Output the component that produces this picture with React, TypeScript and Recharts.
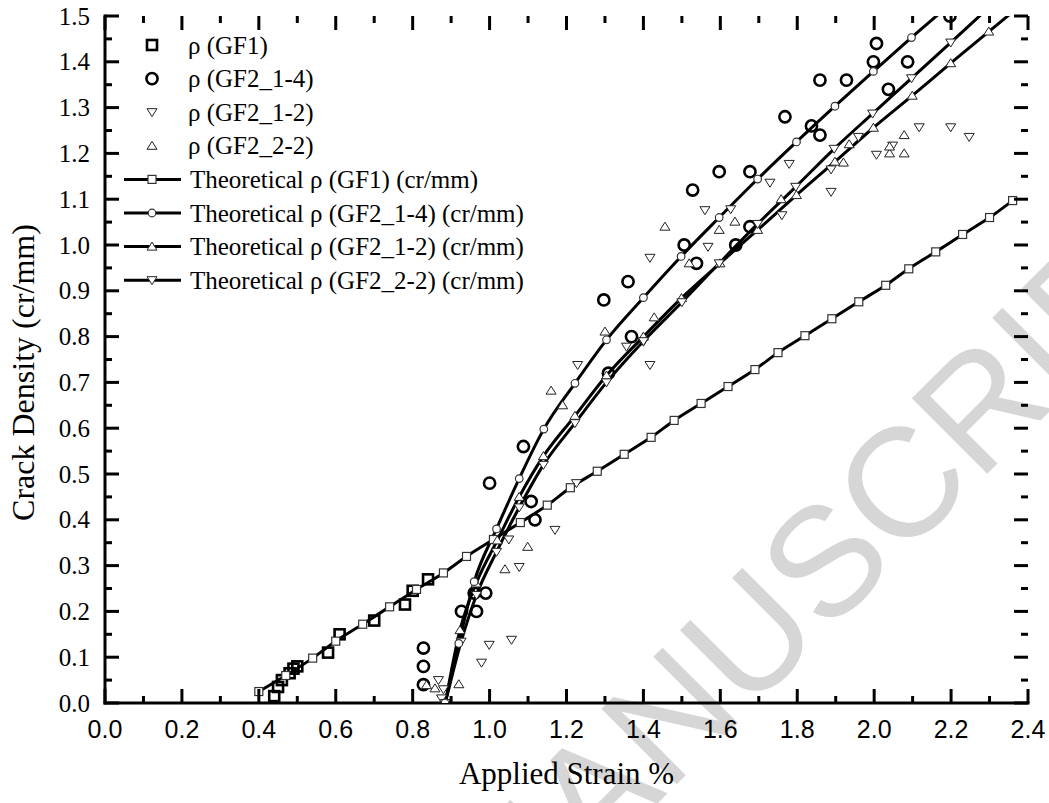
import React from 'react'
import { ComposedChart, Line, Scatter, XAxis, YAxis, Legend } from 'recharts'

// axis ticks
const X_MAJOR = [0, 0.2, 0.4, 0.6, 0.8, 1.0, 1.2, 1.4, 1.6, 1.8, 2.0, 2.2, 2.4]
const X_MINOR = [0.1, 0.3, 0.5, 0.7, 0.9, 1.1, 1.3, 1.5, 1.7, 1.9, 2.1, 2.3]
const Y_MAJOR = [0, 0.1, 0.2, 0.3, 0.4, 0.5, 0.6, 0.7, 0.8, 0.9, 1.0, 1.1, 1.2, 1.3, 1.4, 1.5]
const Y_MINOR = [0.05, 0.15, 0.25, 0.35, 0.45, 0.55, 0.65, 0.75, 0.85, 0.95, 1.05, 1.15, 1.25, 1.35, 1.45]
const X_DOMAIN: [number, number] = [0, 2.4]
const Y_DOMAIN: [number, number] = [0, 1.5]

// measured crack density [strain %, cr/mm]
const GF1_EXP: [number, number][] = [
    [0.44, 0.015], [0.45, 0.035], [0.46, 0.05], [0.48, 0.065], [0.49, 0.075], [0.50, 0.08],
    [0.58, 0.11], [0.61, 0.15], [0.70, 0.18], [0.78, 0.215], [0.80, 0.245], [0.84, 0.27],
]
const GF2_14_EXP: [number, number][] = [
    [0.828, 0.12], [0.828, 0.08], [0.828, 0.04], [0.927, 0.2], [0.966, 0.2], [0.96, 0.24], [0.99, 0.24],
    [1.0, 0.48], [1.088, 0.56], [1.108, 0.44], [1.118, 0.4], [1.297, 0.88], [1.309, 0.72], [1.36, 0.92],
    [1.369, 0.8], [1.506, 1.0], [1.528, 1.12], [1.538, 0.96], [1.597, 1.16], [1.64, 1.0], [1.677, 1.04],
    [1.677, 1.16], [1.768, 1.28], [1.837, 1.26], [1.859, 1.24], [1.859, 1.36], [1.928, 1.36], [1.998, 1.4],
    [2.006, 1.44], [2.037, 1.34], [2.087, 1.4], [2.197, 1.5],
]
const GF2_12_EXP: [number, number][] = [
    [0.867, 0.05], [0.875, 0.01], [0.88, 0.03], [0.979, 0.088], [0.999, 0.127], [1.057, 0.138],
    [1.077, 0.297], [1.05, 0.357], [1.17, 0.378], [1.226, 0.48], [1.229, 0.738], [1.356, 0.778],
    [1.4, 0.789], [1.417, 0.738], [1.417, 0.972], [1.568, 0.996], [1.56, 1.076], [1.627, 1.078],
    [1.729, 1.136], [1.76, 1.065], [1.779, 1.177], [1.888, 1.116], [1.888, 1.165], [1.959, 1.236],
    [2.006, 1.197], [2.048, 1.217], [2.117, 1.257], [2.199, 1.257], [2.247, 1.236],
]
const GF2_22_EXP: [number, number][] = [
    [0.836, 0.039], [0.858, 0.032], [0.92, 0.041], [1.04, 0.292], [1.099, 0.341], [1.16, 0.682],
    [1.19, 0.65], [1.3, 0.811], [1.428, 0.842], [1.456, 1.04], [1.519, 0.96], [1.597, 1.033],
    [1.638, 1.051], [1.758, 1.1], [1.92, 1.18], [1.935, 1.22], [2.04, 1.2], [2.04, 1.215],
    [2.078, 1.2], [2.078, 1.24],
]

// theoretical curves
const GF1_THEO: [number, number][] = [
    [0.40, 0.025], [0.47, 0.06], [0.54, 0.098], [0.60, 0.135], [0.67, 0.172], [0.74, 0.21],
    [0.81, 0.248], [0.88, 0.284], [0.94, 0.32], [1.01, 0.357], [1.08, 0.394], [1.15, 0.432],
    [1.21, 0.47], [1.28, 0.506], [1.35, 0.543], [1.42, 0.58], [1.48, 0.617], [1.55, 0.654],
    [1.62, 0.691], [1.69, 0.728], [1.75, 0.765], [1.82, 0.802], [1.89, 0.839], [1.96, 0.876],
    [2.03, 0.912], [2.09, 0.948], [2.16, 0.985], [2.23, 1.023], [2.30, 1.06], [2.36, 1.097],
]
const GF2_14_THEO: [number, number][] = [
    [0.884, 0.0], [0.92, 0.13], [0.96, 0.265], [1.018, 0.38], [1.077, 0.49], [1.141, 0.598],
    [1.222, 0.698], [1.304, 0.793], [1.4, 0.885], [1.498, 0.975], [1.597, 1.06], [1.697, 1.144],
    [1.798, 1.225], [1.898, 1.303], [1.998, 1.379], [2.097, 1.453], [2.197, 1.525],
]
const GF2_12_THEO: [number, number][] = [
    [0.885, 0.0], [0.923, 0.159], [0.965, 0.261], [1.02, 0.355], [1.077, 0.45], [1.14, 0.539],
    [1.222, 0.627], [1.304, 0.715], [1.4, 0.8], [1.499, 0.884], [1.599, 0.96], [1.697, 1.033],
    [1.798, 1.109], [1.898, 1.182], [1.998, 1.256], [2.099, 1.326], [2.199, 1.397], [2.298, 1.466],
    [2.398, 1.535],
]
const GF2_22_THEO: [number, number][] = [
    [0.885, 0.0], [0.926, 0.134], [0.966, 0.236], [1.018, 0.33], [1.077, 0.427], [1.14, 0.52],
    [1.222, 0.611], [1.304, 0.7], [1.4, 0.79], [1.5, 0.875], [1.597, 0.96], [1.697, 1.046],
    [1.796, 1.127], [1.896, 1.21], [1.996, 1.287], [2.097, 1.364], [2.199, 1.442], [2.3, 1.52],
]

const LEGEND_ROWS = [
    { label: 'ρ (GF1)', mark: 'bsq' },
    { label: 'ρ (GF2_1-4)', mark: 'bci' },
    { label: 'ρ (GF2_1-2)', mark: 'dn' },
    { label: 'ρ (GF2_2-2)', mark: 'up' },
    { label: 'Theoretical ρ (GF1) (cr/mm)', mark: 'sq', line: true },
    { label: 'Theoretical ρ (GF2_1-4) (cr/mm)', mark: 'ci', line: true },
    { label: 'Theoretical ρ (GF2_1-2) (cr/mm)', mark: 'up', line: true },
    { label: 'Theoretical ρ (GF2_2-2) (cr/mm)', mark: 'dn', line: true },
]

const toPts = (arr: [number, number][]) => arr.map(([x, y]) => ({ x, y }))

const W = 1049
const H = 803
const MARGIN = { top: 16, right: 21, left: 0, bottom: 0 }
const Y_AXIS_W = 105
const X_AXIS_H = 100

const SERIF = 'Liberation Serif, Times New Roman, serif'
const SANS = 'Liberation Sans, Arial, sans-serif'
const AXIS = { stroke: '#000', strokeWidth: 3, strokeLinecap: 'square' as const }
const MAJOR = 14
const MINOR = 7

function mark(kind: string, cx: number, cy: number, key?: any) {
    switch (kind) {
        case 'bsq':
            return <rect key={key} x={cx - 5} y={cy - 5} width={10} height={10} fill="none" stroke="#000" strokeWidth={2.6} />
        case 'bci':
            return <circle key={key} cx={cx} cy={cy} r={5.6} fill="none" stroke="#000" strokeWidth={2.6} />
        case 'dn':
            return <path key={key} d={`M${cx - 5},${cy - 3.5} L${cx + 5},${cy - 3.5} L${cx},${cy + 4.5} Z`} fill="#fff" stroke="#222" strokeWidth={1} />
        case 'up':
            return <path key={key} d={`M${cx - 5},${cy + 3.5} L${cx + 5},${cy + 3.5} L${cx},${cy - 4.5} Z`} fill="#fff" stroke="#222" strokeWidth={1} />
        case 'sq':
            return <rect key={key} x={cx - 4} y={cy - 4} width={8} height={8} fill="#fff" stroke="#333" strokeWidth={1.2} />
        case 'ci':
        default:
            return <circle key={key} cx={cx} cy={cy} r={3.8} fill="#fff" stroke="#333" strokeWidth={1.2} />
    }
}

const BottomLabel = (p: any) => (
    <text x={p.x} y={p.y + 35} textAnchor="middle" fontFamily={SANS} fontSize={25} fill="#000">
        {Number(p.payload.value).toFixed(1)}
    </text>
)
const LeftLabel = (p: any) => (
    <text x={p.x - 15} y={p.y + 8.5} textAnchor="end" fontFamily={SERIF} fontSize={25} fill="#000">
        {Number(p.payload.value).toFixed(1)}
    </text>
)

const YTitle = (p: any) => {
    const vb = p.viewBox || { x: 0, y: 16, width: 105, height: 687 }
    return (
        <text
            transform={`translate(34, ${vb.y + vb.height / 2 + 13}) rotate(-90)`}
            textAnchor="middle" fontFamily={SERIF} fontSize={32} fill="#000"
        >
            Crack Density (cr/mm)
        </text>
    )
}

// inward tick marks on the four sides of the frame
const FrameTicks = () => {
    const left = MARGIN.left + Y_AXIS_W
    const right = W - MARGIN.right
    const top = MARGIN.top
    const bot = H - MARGIN.bottom - X_AXIS_H
    const sx = (v: number) => left + ((v - X_DOMAIN[0]) / (X_DOMAIN[1] - X_DOMAIN[0])) * (right - left)
    const sy = (v: number) => bot - ((v - Y_DOMAIN[0]) / (Y_DOMAIN[1] - Y_DOMAIN[0])) * (bot - top)
    const out: any[] = []
    const vx = (v: number, len: number, k: string) => {
        const x = sx(v)
        out.push(<line key={`b${k}`} x1={x} x2={x} y1={bot} y2={bot - len} stroke="#000" strokeWidth={3} />)
        out.push(<line key={`t${k}`} x1={x} x2={x} y1={top} y2={top + len} stroke="#000" strokeWidth={3} />)
    }
    const hy = (v: number, len: number, k: string) => {
        const y = sy(v)
        out.push(<line key={`l${k}`} x1={left} x2={left + len} y1={y} y2={y} stroke="#000" strokeWidth={3} />)
        out.push(<line key={`r${k}`} x1={right} x2={right - len} y1={y} y2={y} stroke="#000" strokeWidth={3} />)
    }
    X_MAJOR.forEach((v, i) => vx(v, MAJOR, `xM${i}`))
    X_MINOR.forEach((v, i) => vx(v, MINOR, `xm${i}`))
    Y_MAJOR.forEach((v, i) => hy(v, MAJOR, `yM${i}`))
    Y_MINOR.forEach((v, i) => hy(v, MINOR, `ym${i}`))
    return (
        <svg width={W} height={H} style={{ position: 'absolute', left: 0, top: 0, pointerEvents: 'none' }}>
            {out}
        </svg>
    )
}

const LegendBox = () => (
    <svg width={560} height={300} style={{ display: 'block' }}>
        {LEGEND_ROWS.map((r, i) => {
            const y = 45 + i * 33.6
            return (
                <g key={i}>
                    {r.line && <line x1={124} x2={181} y1={y} y2={y} stroke="#000" strokeWidth={3} />}
                    {mark(r.mark, 152, y)}
                    <text x={r.line ? 190 : 188} y={y + 8.5} fontFamily={SERIF} fontSize={25} fill="#000">
                        {r.label}
                    </text>
                </g>
            )
        })}
    </svg>
)

const dotFn = (kind: string) => (p: any) => mark(kind, p.cx, p.cy, p.index)

export default function App() {
    return (
        <div style={{ position: 'relative', width: W, height: H, background: '#fff' }}>
            <style>{'body{margin:0}'}</style>
            <svg width={W} height={H} style={{ position: 'absolute', left: 0, top: 0 }}>
                <text
                    transform="translate(1228,233) rotate(-45)"
                    textAnchor="end"
                    fontFamily={SANS}
                    fontSize={155}
                    fill="#d6d6d6"
                >
                    ACCEPTED MANUSCRIPT
                </text>
            </svg>
            <div style={{ position: 'absolute', left: 0, top: 0 }}>
                <ComposedChart width={W} height={H} margin={MARGIN}>
                    <XAxis
                        dataKey="x" type="number" domain={X_DOMAIN} ticks={X_MAJOR} interval={0} allowDataOverflow
                        height={X_AXIS_H} tickSize={0} tickMargin={0} tickLine={false} axisLine={AXIS} tick={BottomLabel}
                        label={{ value: 'Applied Strain %', position: 'insideBottom', offset: 19, fill: '#000', fontFamily: SERIF, fontSize: 31 }}
                    />
                    <XAxis
                        xAxisId="top" orientation="top" mirror dataKey="x" type="number" domain={X_DOMAIN}
                        allowDataOverflow height={0} tickLine={false} axisLine={AXIS} tick={false}
                    />
                    <YAxis
                        dataKey="y" type="number" domain={Y_DOMAIN} ticks={Y_MAJOR} interval={0} allowDataOverflow
                        width={Y_AXIS_W} tickSize={0} tickMargin={0} tickLine={false} axisLine={AXIS} tick={LeftLabel}
                        label={{ content: YTitle }}
                    />
                    <YAxis
                        yAxisId="right" orientation="right" mirror type="number" domain={Y_DOMAIN}
                        allowDataOverflow width={0} tickLine={false} axisLine={AXIS} tick={false}
                    />
                    <Legend
                        layout="horizontal" verticalAlign="middle" align="center"
                        wrapperStyle={{ position: 'absolute', left: 0, top: 0, width: 560, height: 300 }}
                        content={LegendBox}
                    />

                    <Scatter name="ρ (GF1)" data={toPts(GF1_EXP)} shape={(p: any) => mark('bsq', p.cx, p.cy)} isAnimationActive={false} />
                    <Scatter name="ρ (GF2_1-4)" data={toPts(GF2_14_EXP)} shape={(p: any) => mark('bci', p.cx, p.cy)} isAnimationActive={false} />
                    <Scatter name="ρ (GF2_1-2)" data={toPts(GF2_12_EXP)} shape={(p: any) => mark('dn', p.cx, p.cy)} isAnimationActive={false} />
                    <Scatter name="ρ (GF2_2-2)" data={toPts(GF2_22_EXP)} shape={(p: any) => mark('up', p.cx, p.cy)} isAnimationActive={false} />

                    <Line name="Theoretical ρ (GF1) (cr/mm)" data={toPts(GF1_THEO)} dataKey="y" type="monotone" stroke="#000" strokeWidth={3} dot={dotFn('sq')} activeDot={false} isAnimationActive={false} />
                    <Line name="Theoretical ρ (GF2_1-2) (cr/mm)" data={toPts(GF2_12_THEO)} dataKey="y" type="monotone" stroke="#000" strokeWidth={3} dot={dotFn('up')} activeDot={false} isAnimationActive={false} />
                    <Line name="Theoretical ρ (GF2_2-2) (cr/mm)" data={toPts(GF2_22_THEO)} dataKey="y" type="monotone" stroke="#000" strokeWidth={3} dot={dotFn('dn')} activeDot={false} isAnimationActive={false} />
                    <Line name="Theoretical ρ (GF2_1-4) (cr/mm)" data={toPts(GF2_14_THEO)} dataKey="y" type="monotone" stroke="#000" strokeWidth={3} dot={dotFn('ci')} activeDot={false} isAnimationActive={false} />
                </ComposedChart>
            </div>
            <FrameTicks />
        </div>
    )
}
